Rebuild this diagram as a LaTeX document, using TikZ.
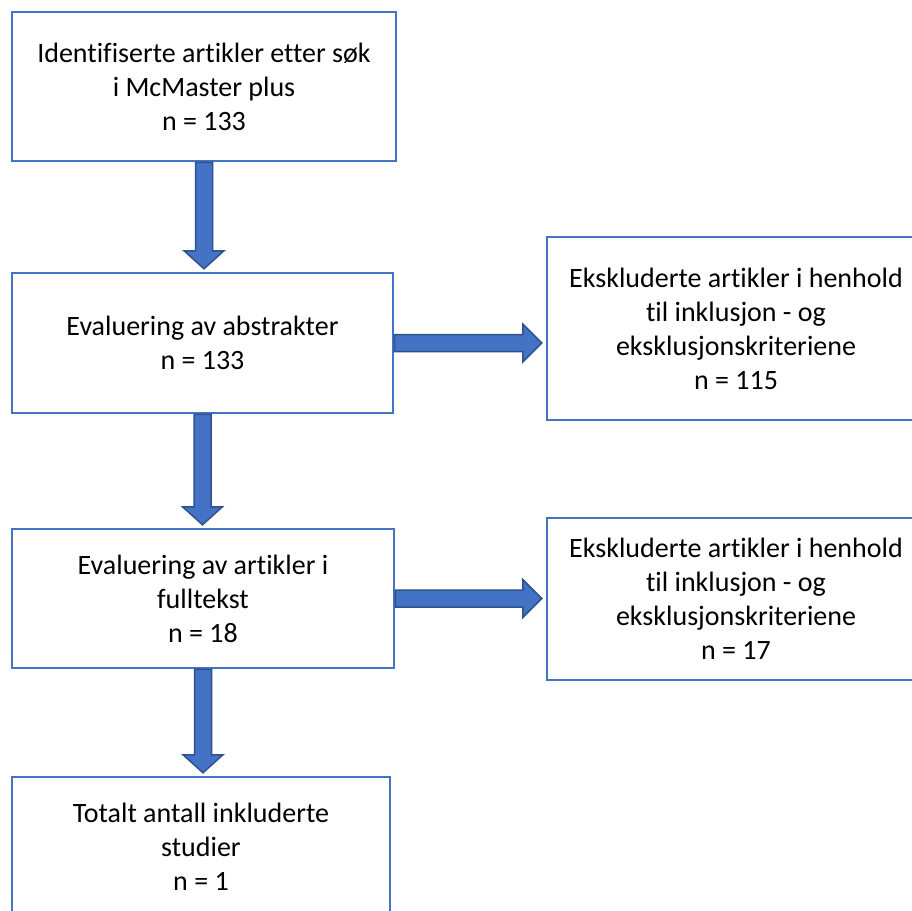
\documentclass[tikz,border=0pt]{standalone}
\usepackage{fontspec}
\setmainfont[RawFeature={-liga;-clig}]{Carlito}
\usepackage{tikz}
\usetikzlibrary{calc}
\definecolor{boxblue}{HTML}{4472C4}
\definecolor{edgeblue}{HTML}{2F528F}
\tikzstyle{every node}=[thick]
\tikzstyle{box}=[draw=boxblue, line width=2.5pt, fill=white, inner sep=0pt, align=center, font=\fontsize{28}{34}\selectfont]
\tikzstyle{blk}=[fill=boxblue, draw=edgeblue, line width=1.5pt, line join=miter]
\newcommand{\blkdown}[2]{%
 \path[blk] let \p1=(#1), \p2=(#2) in
  (\x1-8.5pt,\y1) -- (\x1+8.5pt,\y1) -- (\x1+8.5pt,\y2+21pt) -- (\x1+20pt,\y2+21pt)
  -- (\x1,\y2+3pt) -- (\x1-20pt,\y2+21pt) -- (\x1-8.5pt,\y2+21pt) -- cycle;}
\newcommand{\blkright}[2]{%
 \path[blk] let \p1=(#1), \p2=(#2) in
  (\x1,\y1+8.5pt) -- (\x2-23pt,\y1+8.5pt) -- (\x2-23pt,\y1+19pt) -- (\x2-4pt,\y1)
  -- (\x2-23pt,\y1-19pt) -- (\x2-23pt,\y1-8.5pt) -- (\x1,\y1-8.5pt) -- cycle;}

\begin{document}
\begin{tikzpicture}[x=1pt,y=-1pt]
 \clip (0,0) rectangle (912,910);
 \fill[white] (0,0) rectangle (912,910);
 \node[box, minimum width=384pt, minimum height=149pt] (id) at (204,86.5)
  {Identifiserte artikler etter søk\\ i McMaster plus\\ n = 133};
 \node[box, minimum width=381pt, minimum height=140pt] (abs) at (202.5,343)
  {Evaluering av abstrakter\\ n = 133};
 \node[box, minimum width=382pt, minimum height=139pt] (full) at (203,598.5)
  {Evaluering av artikler i\\ fulltekst\\ n = 18};
 \node[box, minimum width=378pt, minimum height=140pt] (inc) at (201,847)
  {Totalt antall inkluderte\\ studier\\ n = 1};
 \node[box, minimum width=378pt, minimum height=183pt] (ex1) at (736,328.5)
  {Ekskluderte artikler i henhold\\ til inklusjon - og\\ eksklusjonskriteriene\\ n = 115};
 \node[box, minimum width=378pt, minimum height=162pt] (ex2) at (736,599)
  {Ekskluderte artikler i henhold\\ til inklusjon - og\\ eksklusjonskriteriene\\ n = 17};
 \blkdown{id.south}{abs.north}
 \blkdown{abs.south}{full.north}
 \blkdown{full.south}{inc.north}
 \blkright{abs.east}{ex1.west}
 \blkright{full.east}{ex2.west}
\end{tikzpicture}
\end{document}
